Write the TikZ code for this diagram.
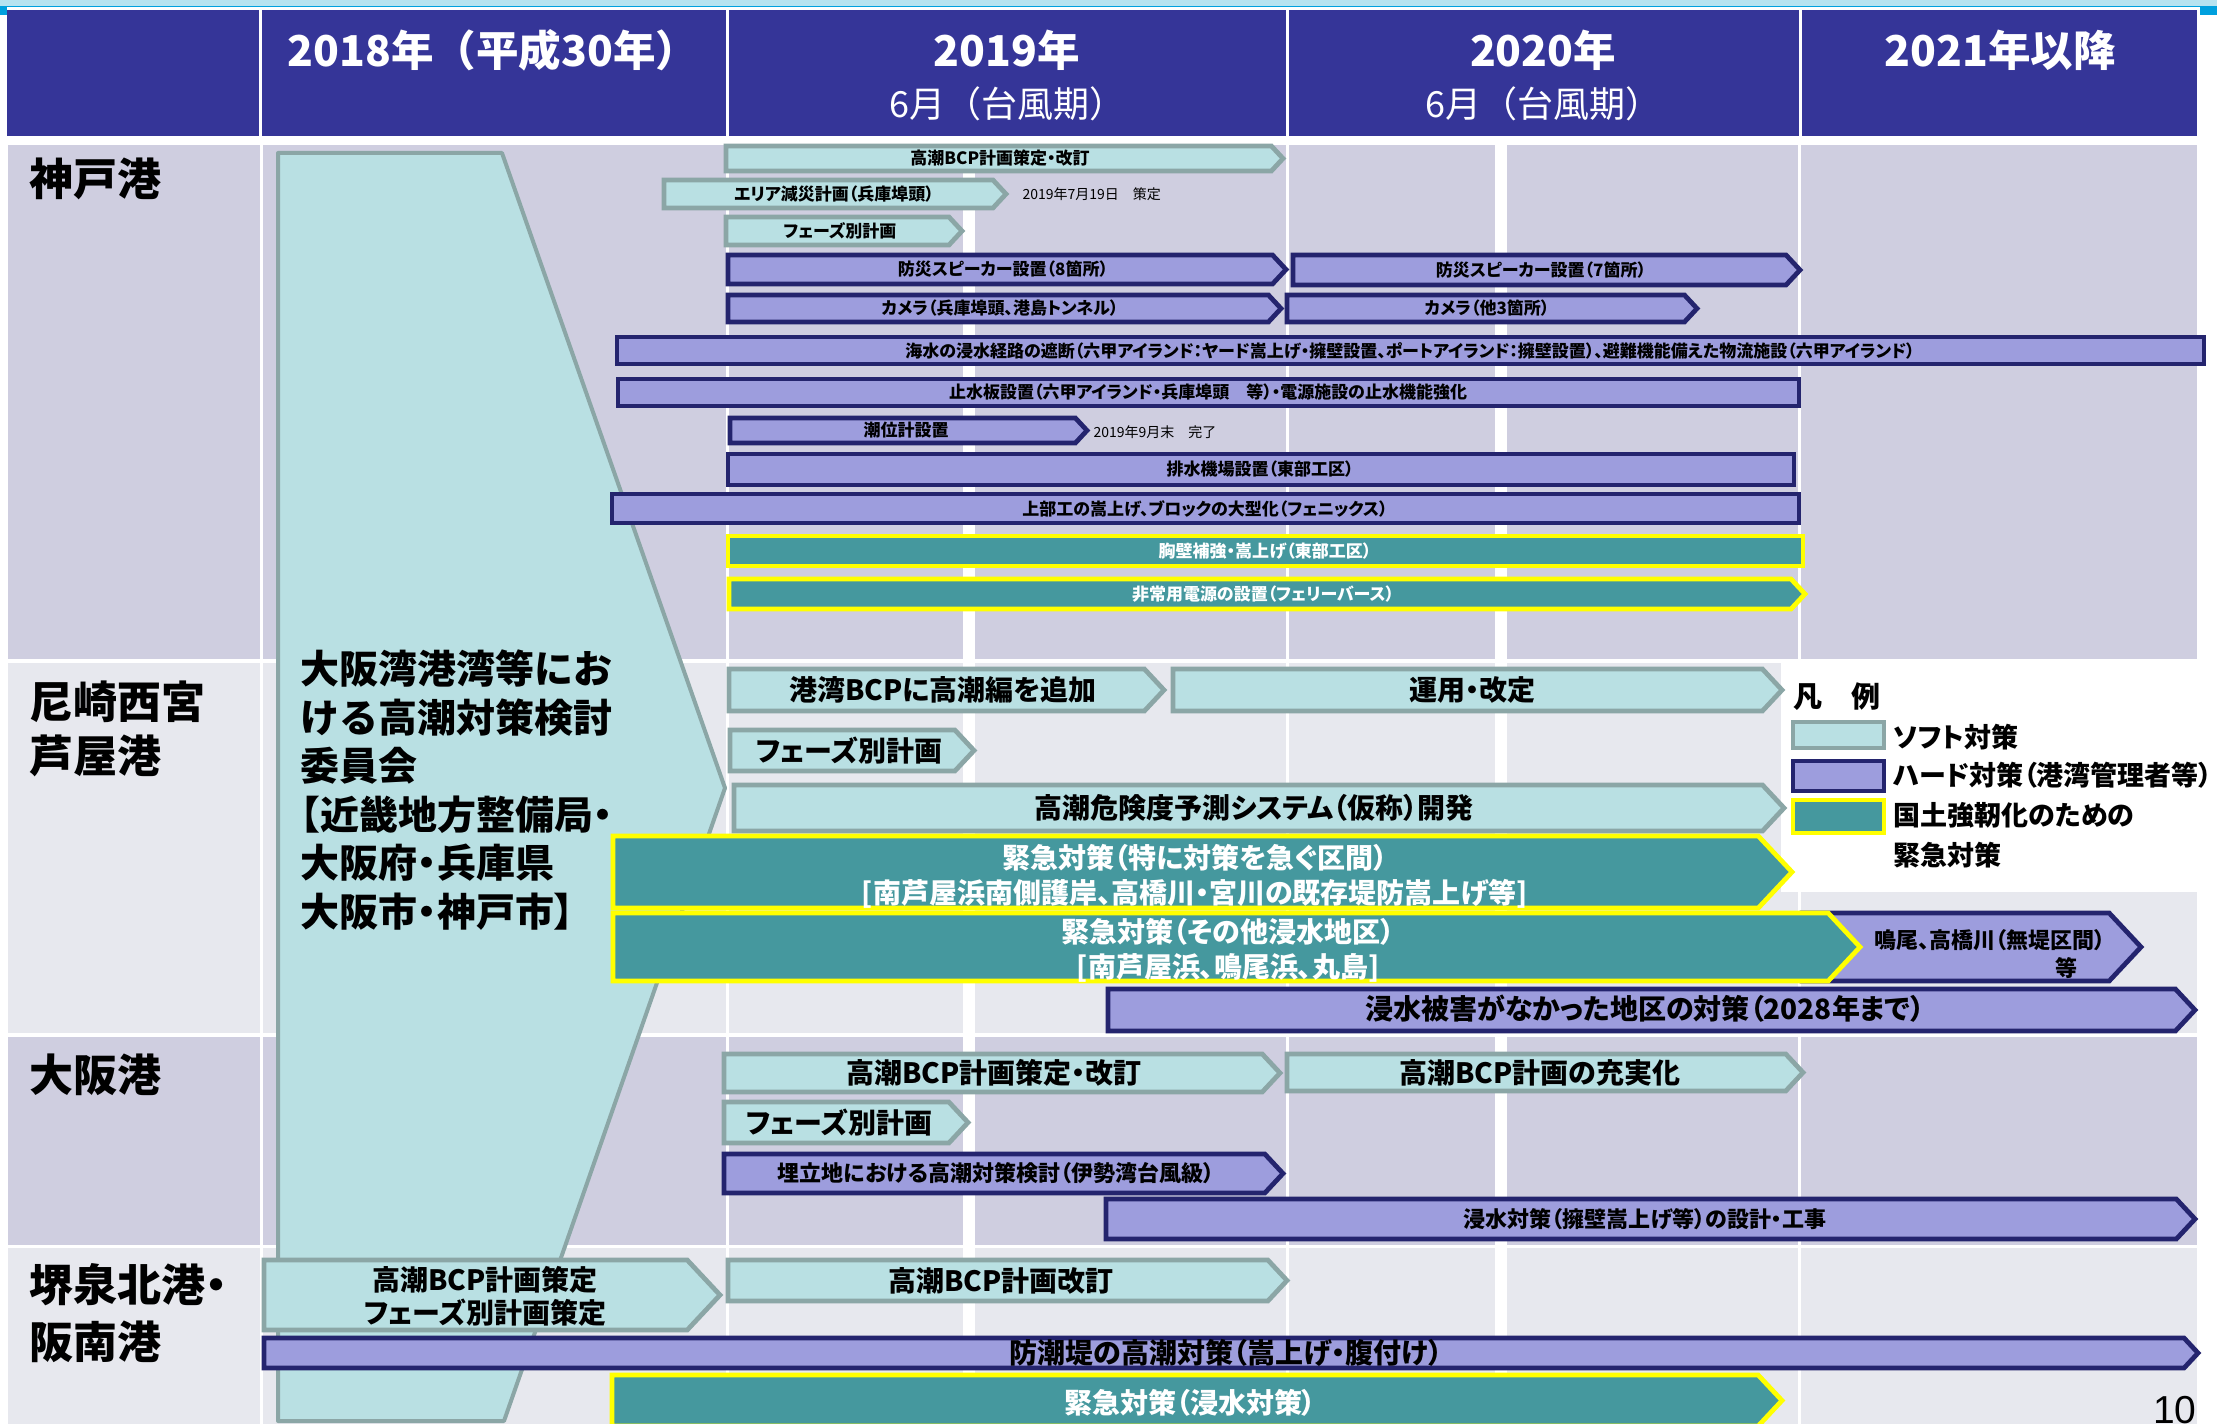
\documentclass[tikz,border=0pt]{standalone}
\usepackage{fontspec}
\setmainfont{Noto Sans CJK JP}[RawFeature=+palt]
\newfontfamily\jpw{Noto Sans CJK JP}
\newfontfamily\latf{Liberation Sans}
\newcommand\pp[1]{{\rmfamily #1}}
\definecolor{hdr}{RGB}{53,53,152}
\definecolor{rowd}{RGB}{207,206,224}
\definecolor{rowl}{RGB}{231,232,238}
\definecolor{softf}{RGB}{185,224,227}
\definecolor{softb}{RGB}{139,166,166}
\definecolor{hardf}{RGB}{157,157,221}
\definecolor{hardb}{RGB}{36,36,110}
\definecolor{emgf}{RGB}{69,152,158}
\definecolor{emgb}{RGB}{255,255,0}
\definecolor{topb}{RGB}{183,227,240}
\definecolor{topl}{RGB}{0,160,222}
\newcommand\chev[5]{%
  \pgfmathsetmacro\chd{0.47*(#5-#3)}%
  \pgfmathsetmacro\chm{(#3+#5)/2}%
  \draw[#1] (#2+2,#3+2) -- (#4-\chd,#3+2) -- (#4-2,\chm) -- (#4-\chd,#5-2) -- (#2+2,#5-2) -- cycle;}
\newcommand\rbar[5]{\draw[#1] (#2+2,#3+2) rectangle (#4-2,#5-2);}
\begin{document}
\begin{tikzpicture}[x=0.4pt,y=-0.4pt,
  soft/.style={fill=softf,draw=softb,line width=1.9pt},
  hard/.style={fill=hardf,draw=hardb,line width=1.9pt},
  emg/.style={fill=emgf,draw=emgb,line width=1.9pt},
  trap/.style={fill=softf,draw=softb,line width=1.6pt,line join=round},
  lk/.style={inner sep=0,font=\bfseries\fontsize{6.8}{8}\selectfont},
  lb/.style={inner sep=0,font=\bfseries\fontsize{11.2}{14}\selectfont,align=center},
  lm/.style={inner sep=0,font=\bfseries\fontsize{8.8}{11}\selectfont,align=center},
  wt/.style={text=white},
  note/.style={inner sep=0,anchor=west,font=\fontsize{5.6}{7}\selectfont},
  rowlab/.style={inner sep=0,anchor=west,align=left},
  hd1/.style={inner sep=0,text=white,font=\jpw\bfseries\fontsize{17}{20}\selectfont},
  hd2/.style={inner sep=0,text=white,font=\jpw\fontsize{14.4}{17}\selectfont},
  leg/.style={inner sep=0,anchor=west,font=\bfseries\fontsize{10.8}{16}\selectfont}]
\useasboundingbox (0,0) rectangle (2217,1424);
\begin{scope}
\clip (0,0) rectangle (2217,1424);
\fill[white] (0,0) rectangle (2217,1424);
% top strip
\fill[topb] (0,0) rectangle (2217,6);
\fill[topl] (0,6) rectangle (2217,7.5);
\fill[topl] (0,6) rectangle (7,15);
\fill[topl] (2200,6) rectangle (2217,15);
% header
\fill[hdr] (7,10) rectangle (2197,136);
\foreach \xx in {260,727,1287,1800} \fill[white] (\xx-1.5,10) rectangle (\xx+1.5,136);
% rows
\fill[rowd] (8,145) rectangle (2197,659);
\fill[rowl] (8,663) rectangle (2197,1033);
\fill[rowd] (8,1037) rectangle (2197,1245);
\fill[rowl] (8,1248) rectangle (2197,1424);
\foreach \xa/\xb in {260/263,726/729,963/975,1286/1289,1495/1507,1798/1801} \fill[white] (\xa,145) rectangle (\xb,1424);
% legend background
\fill[white] (1781,659) rectangle (2217,892);
% committee arrow
\draw[trap] (278,153) -- (502,153) -- (725,788) -- (504,1421) -- (278,1421) -- cycle;
\node[inner sep=0,anchor=west,align=left,font=\jpw\bfseries\fontsize{15.6}{19.4}\selectfont] (cm) at (300,790) {大阪湾港湾等にお\\ける高潮対策検討\\委員会\\\pp{【}近畿地方整備局\pp{・}\\大阪府\pp{・}兵庫県\\大阪市\pp{・}神戸市\pp{】}};
% ---- Kobe
\chev{soft}{724}{144}{1285}{173}
\node[lk] (k1) at (1000,158.5) {高潮BCP計画策定・改訂};
\chev{soft}{662}{178}{1008}{210}
\node[lk] (k2) at (834,194) {エリア減災計画（兵庫埠頭）};
\node[note] (k2n) at (1022,194) {2019年7月19日　策定};
\chev{soft}{724}{215}{964}{247}
\node[lk] (k3) at (840,231) {フェーズ別計画};
\chev{hard}{726}{253}{1288}{286}
\node[lk] (k4) at (1003,269.5) {防災スピーカー設置（8箇所）};
\chev{hard}{1291}{253}{1802}{287}
\node[lk] (k5) at (1541,270) {防災スピーカー設置（7箇所）};
\chev{hard}{726}{293}{1283}{324}
\node[lk] (k6) at (1000,308.5) {カメラ（兵庫埠頭、港島トンネル）};
\chev{hard}{1285}{293}{1699}{324}
\node[lk] (k7) at (1487,308.5) {カメラ（他3箇所）};
\rbar{hard}{615}{335}{2206}{366}
\node[lk] (k8) at (1410,350.5) {海水の浸水経路の遮断（六甲アイランド：ヤード嵩上げ・擁壁設置、ポートアイランド：擁壁設置）、避難機能備えた物流施設（六甲アイランド）};
\rbar{hard}{616}{377}{1801}{408}
\node[lk] (k9) at (1208,392.5) {止水板設置（六甲アイランド・兵庫埠頭　等）・電源施設の止水機能強化};
\chev{hard}{728}{416}{1089}{445}
\node[lk] (k10) at (906,430.5) {潮位計設置};
\node[note] (k10n) at (1093,432) {2019年9月末　完了};
\rbar{hard}{726}{452}{1796}{487}
\node[lk] (k11) at (1260,469.5) {排水機場設置（東部工区）};
\rbar{hard}{610}{492}{1801}{525}
\node[lk] (k12) at (1205,508.5) {上部工の嵩上げ、ブロックの大型化（フェニックス）};
\rbar{emg}{726}{534}{1805}{568}
\node[lk,wt] (k13) at (1265,551) {胸壁補強・嵩上げ（東部工区）};
\chev{emg}{727}{577}{1807}{611}
\node[lk,wt] (k14) at (1263,594) {非常用電源の設置（フェリーバース）};
% ---- Amagasaki
\chev{soft}{727}{667}{1166}{713}
\node[lb] (a1) at (943,690) {港湾BCPに高潮編を追加};
\chev{soft}{1171}{667}{1784}{713}
\node[lb] (a2) at (1472,690) {運用・改定};
\chev{soft}{728}{728}{976}{773}
\node[lb] (a3) at (849,750.5) {フェーズ別計画};
\chev{soft}{732}{783}{1786}{833}
\node[lb] (a4) at (1254,808) {高潮危険度予測システム（仮称）開発};
\chev{emg}{611}{834}{1794}{910}
\node[lb,wt] (a5) at (1195,876) {緊急対策（特に対策を急ぐ区間）\\{[}南芦屋浜南側護岸、高橋川・宮川の既存堤防嵩上げ等{]}};
\chev{hard}{1800}{911}{2143}{983}
\chev{emg}{611}{911}{1862}{983}
\node[lb,wt] (a7) at (1228,950.5) {緊急対策（その他浸水地区）\\{[}南芦屋浜、鳴尾浜、丸島{]}};
\node[lm] (a6) at (1990,940) {鳴尾、高橋川（無堤区間）};
\node[lm] (a6b) at (2066,968) {等};
\chev{hard}{1106}{987}{2197}{1033}
\node[lb] (a8) at (1645,1009) {浸水被害がなかった地区の対策（2028年まで）};
% ---- Osaka
\chev{soft}{722}{1052}{1282}{1094}
\node[lb] (b1) at (994,1073) {高潮BCP計画策定・改訂};
\chev{soft}{1285}{1052}{1805}{1093}
\node[lb] (b2) at (1540,1073) {高潮BCP計画の充実化};
\chev{soft}{722}{1100}{970}{1145}
\node[lb] (b3) at (839,1122.5) {フェーズ別計画};
\chev{hard}{722}{1152}{1285}{1195}
\node[lm] (b4) at (996,1173.5) {埋立地における高潮対策検討（伊勢湾台風級）};
\chev{hard}{1104}{1197}{2197}{1241}
\node[lm] (b5) at (1645,1219) {浸水対策（擁壁嵩上げ等）の設計・工事};
% ---- Sakai
\chev{soft}{262}{1258}{722}{1332}
\node[lb,font=\bfseries\fontsize{11.2}{13.2}\selectfont] (c1) at (485,1296.5) {高潮BCP計画策定\\フェーズ別計画策定};
\chev{soft}{726}{1258}{1289}{1303}
\node[lb] (c2) at (1001,1280.5) {高潮BCP計画改訂};
\chev{hard}{262}{1336}{2200}{1370}
\node[lb] (c3) at (1226,1353) {防潮堤の高潮対策（嵩上げ・腹付け）};
\chev{emg}{610}{1373}{1784}{1428}
\node[lb,wt] (c4) at (1190,1403) {緊急対策（浸水対策）};
% ---- legend
\node[inner sep=0,font=\jpw\bfseries\fontsize{11.6}{14}\selectfont] (lgt) at (1837,697) {凡　例};
\draw[soft] (1793,722) rectangle (1884,748);
\node[leg] (lg1) at (1893,737) {ソフト対策};
\draw[hard] (1793,761) rectangle (1884,791);
\node[leg] (lg2) at (1893,775) {ハード対策（港湾管理者等）};
\draw[emg] (1793,800) rectangle (1884,833);
\node[leg,align=left] (lg3) at (1893,835) {国土強靭化のための\\緊急対策};
% ---- row labels
\node[rowlab,font=\jpw\bfseries\fontsize{17.6}{21.6}\selectfont] (r1) at (29,179) {神戸港};
\node[rowlab,font=\jpw\bfseries\fontsize{17.6}{21.6}\selectfont] (r2) at (29,729) {尼崎西宮\\芦屋港};
\node[rowlab,font=\jpw\bfseries\fontsize{17.6}{21.6}\selectfont] (r3) at (29,1075) {大阪港};
\node[rowlab,font=\jpw\bfseries\fontsize{17.6}{22.8}\selectfont] (r4) at (29,1313.5) {堺泉北港\pp{・}\\阪南港};
% ---- header
\node[hd1] (h1) at (493,50) {2018年（平成30年）};
\node[hd1] (h2) at (1007,50) {2019年};
\node[hd2] (h2b) at (1007,104) {6月（台風期）};
\node[hd1] (h3) at (1543,50) {2020年};
\node[hd2] (h3b) at (1543,104) {6月（台風期）};
\node[hd1] (h4) at (2000,50) {2021年以降};
% page number
\node[inner sep=0,anchor=base east,font=\latf\fontsize{15.6}{18}\selectfont] (pg) at (2197,1423) {10};
\end{scope}
\end{tikzpicture}
\end{document}
